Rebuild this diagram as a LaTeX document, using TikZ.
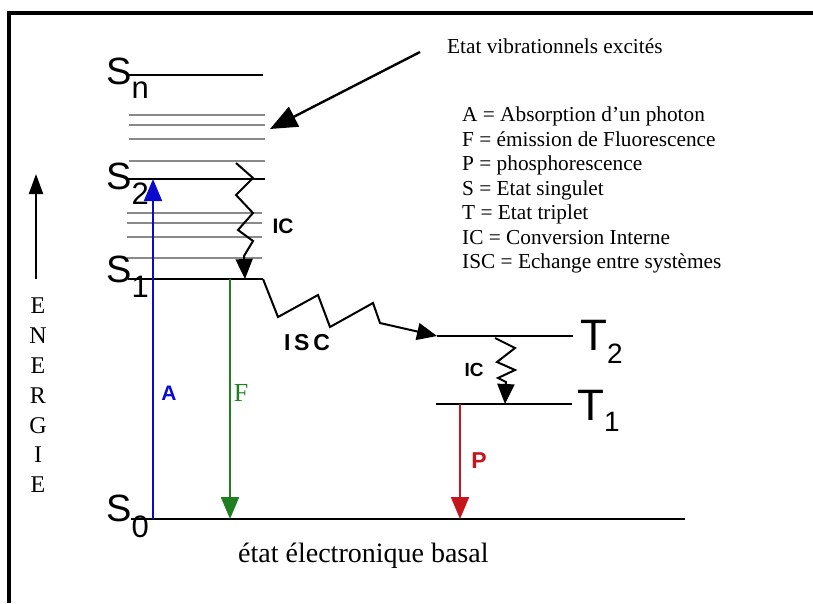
\documentclass[tikz,border=0pt]{standalone}
\usepackage{fontspec}
\setmainfont{Liberation Serif}
\newfontfamily\helv{Liberation Sans}
\usetikzlibrary{arrows.meta}
\definecolor{absblue}{HTML}{0A0ACD}
\definecolor{fluogreen}{HTML}{1F7F1F}
\definecolor{phosred}{HTML}{C4161C}
\definecolor{vibgray}{HTML}{8A8A8A}

\begin{document}
\begin{tikzpicture}[
  x=1pt, y=-1pt,
  level/.style={line width=2.6pt, draw=black},
  vib/.style={line width=2.6pt, draw=vibgray},
  trans/.style={-{Triangle[length=22pt,width=18pt]}, line width=2pt, draw=#1},
  relax/.style={-{Triangle[length=20pt,width=17pt]}, line width=2pt, line join=miter, draw=black},
  statelbl/.style={font=\helv\fontsize{38}{38}\selectfont, inner sep=0pt, anchor=base west},
  proc/.style={font=\helv\bfseries\fontsize{21}{21}\selectfont, inner sep=0pt, text=#1},
  serifnote/.style={font=\fontsize{21.3}{24.5}\selectfont, inner sep=0pt}
]
\useasboundingbox (0,0) rectangle (813,603);

% frame
\draw[line width=4pt] (9,603) -- (9,13) -- (813,13);

% energy levels
\draw[level] (128,75) -- (263,75);
\draw[level] (128,179) -- (265,179);
\draw[level] (128,279) coordinate (s1L) -- (263,279) coordinate (s1R);
\draw[level] (131,519) -- (685,519);
\draw[level] (437,336) coordinate (t2L) -- (573,336);
\draw[level] (436,404) -- (572,404);

% vibrational sublevels
\foreach \y in {115,125,139,161} \draw[vib] (129,\y) -- (265,\y);
\foreach \y in {213,223,237,258} \draw[vib] (127,\y) -- (262,\y);

% state labels
\node[statelbl] (sn) at (106,84) {S\raisebox{-14pt}{\fontsize{31}{31}\selectfont n}};
\node[statelbl] (s2) at (106,189) {S\raisebox{-15pt}{\fontsize{31}{31}\selectfont 2}};
\node[statelbl] (s1) at (106,282) {S\raisebox{-15pt}{\fontsize{31}{31}\selectfont 1}};
\node[statelbl] (s0) at (106,521) {S\raisebox{-16pt}{\fontsize{31}{31}\selectfont 0}};
\node[statelbl, font=\helv\fontsize{44}{44}\selectfont] (t2) at (580,350) {T\raisebox{-13pt}{\fontsize{28}{28}\selectfont 2}};
\node[statelbl, font=\helv\fontsize{44}{44}\selectfont] (t1) at (577,420) {T\raisebox{-11pt}{\fontsize{28}{28}\selectfont 1}};

% radiative transitions
\coordinate (aFoot) at (153,519);
\coordinate (aTip) at (153,179);
\coordinate (fTop) at (230,279);
\coordinate (fTip) at (230,519);
\coordinate (pTop) at (460,404);
\coordinate (pTip) at (460,519);
\draw[trans=absblue] (aFoot) -- (aTip);
\draw[trans=fluogreen] (fTop) -- (fTip);
\draw[trans=phosred] (pTop) -- (pTip);
\node[proc=absblue] (alabel) at (169,393) {A};
\node[font=\fontsize{26}{26}\selectfont, text=fluogreen, inner sep=0pt] (flabel) at (241,393) {F};
\node[proc=phosred, font=\helv\bfseries\fontsize{23}{23}\selectfont] (plabel) at (479,461) {P};

% non-radiative transitions
\coordinate (icTop) at (236,163);
\coordinate (icTip) at (245,279);
\draw[relax] (icTop) -- (253,178) -- (236,195) -- (253,213) -- (238,230) -- (253,241) -- (244,256) -- (icTip);
\node[proc=black] (iclabel) at (283,226) {IC};

\draw[relax] (s1R) -- (278,317) -- (318,295) -- (330,327) -- (373,303) -- (380,323) -- (t2L);
\node[proc=black, font=\helv\bfseries\fontsize{23}{23}\selectfont] (isclabel) at (307,343) {I\,S\,C};

\coordinate (ictTop) at (495,338);
\coordinate (ictTip) at (505,404);
\draw[relax] (ictTop) -- (515,348) -- (497,362) -- (515,370) -- (498,378) -- (506,382) -- (ictTip);
\node[proc=black, font=\helv\bfseries\fontsize{19}{19}\selectfont] (ictlabel) at (474,370) {IC};

% energy axis
\node[font=\fontsize{24}{29.8}\selectfont, align=center, inner sep=0pt, anchor=north] (energie) at (38,298) {E\\N\\E\\R\\G\\I\\E};
\coordinate (eFoot) at (36,279);
\coordinate (eTip) at (36,174);
\draw[-{Triangle[length=20pt,width=14pt]}, line width=2.2pt] (eFoot) -- (eTip);

% notes
\node[serifnote, anchor=base west] (vibnote) at (447,53) {Etat vibrationnels excités};
\coordinate (vibTip) at (270,129);
\draw[-{Triangle[length=27pt,width=22pt]}, line width=2.4pt] (420,52) -- (vibTip);
\node[serifnote, align=left, anchor=north west] (legend) at (462,107) {A = Absorption d’un photon\\F = émission de Fluorescence\\P = phosphorescence\\S = Etat singulet\\T = Etat triplet\\IC = Conversion Interne\\ISC = Echange entre systèmes};
\node[font=\fontsize{28}{28}\selectfont, inner sep=0pt, anchor=base west] (basal) at (238,562) {état électronique basal};
\end{tikzpicture}
\end{document}
